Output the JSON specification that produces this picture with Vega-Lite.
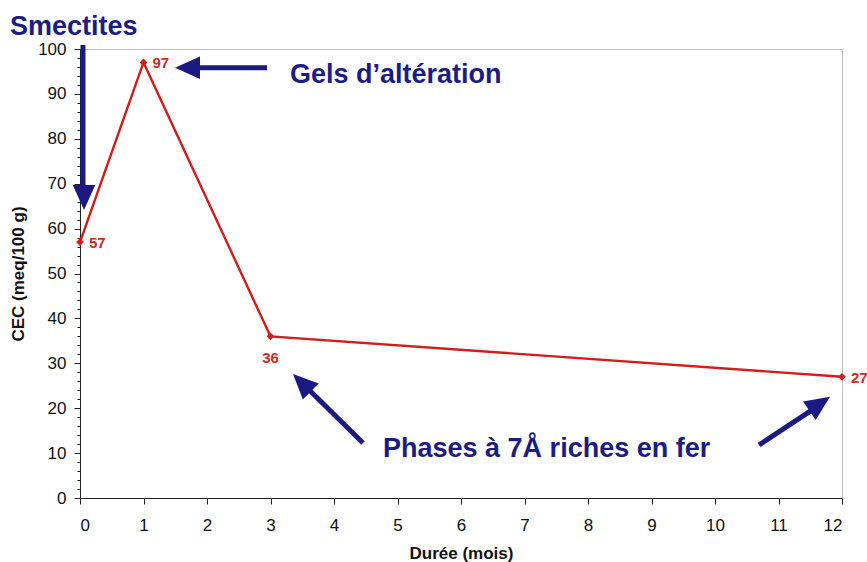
{
  "$schema": "https://vega.github.io/schema/vega-lite/v6.json",
  "width": 762,
  "height": 449,
  "autosize": {"type": "none"},
  "padding": {"left": 80, "top": 49, "right": 25, "bottom": 64},
  "background": "white",
  "config": {
    "view": {"stroke": "#bdbdbd", "strokeWidth": 1},
    "font": "Liberation Sans"
  },
  "datasets": {
    "cec": [
      {"mois": 0, "cec": 57},
      {"mois": 1, "cec": 97},
      {"mois": 3, "cec": 36},
      {"mois": 12, "cec": 27}
    ],
    "shafts": [
      {"mois": 0.047, "y": 100.9, "x2": 0.047, "y2": 67.5},
      {"mois": 2.945, "y": 95.8, "x2": 1.75, "y2": 95.8},
      {"mois": 4.457, "y": 12.25, "x2": 3.55, "y2": 24.9},
      {"mois": 10.693, "y": 11.8, "x2": 11.59, "y2": 20.2}
    ],
    "notes": [
      {"mois": -1.102, "y": 103.1, "text": "Smectites"},
      {"mois": 3.307, "y": 92.4, "text": "Gels d’altération"},
      {"mois": 4.772, "y": 9.13, "text": "Phases à 7Å riches en fer"}
    ]
  },
  "layer": [
    {
      "data": {"name": "cec"},
      "mark": {"type": "line", "color": "#d41c1c", "strokeWidth": 2.4},
      "encoding": {
        "x": {
          "field": "mois", "type": "quantitative",
          "scale": {"domain": [0, 12], "nice": false, "zero": false},
          "axis": {
            "values": [0,1,2,3,4,5,6,7,8,9,10,11,12], "format": "d",
            "grid": false, "tickSize": 6, "tickColor": "#222", "domainColor": "#222",
            "labelFontSize": 17, "labelColor": "#111", "labelPadding": 13,
            "labelFont": "Liberation Sans",
            "title": "Durée (mois)", "titleFontSize": 17, "titleFontWeight": "bold",
            "titleColor": "#111", "titleFont": "Liberation Sans", "titlePadding": 12
          }
        },
        "y": {
          "field": "cec", "type": "quantitative",
          "scale": {"domain": [0, 100], "nice": false},
          "axis": {
            "values": [0,10,20,30,40,50,60,70,80,90,100], "format": "d",
            "grid": false, "tickSize": 6, "tickColor": "#222", "domainColor": "#222",
            "labelFontSize": 17, "labelColor": "#111", "labelPadding": 8,
            "labelFont": "Liberation Sans",
            "title": "CEC (meq/100 g)", "titleFontSize": 17, "titleFontWeight": "bold",
            "titleColor": "#111", "titleFont": "Liberation Sans", "titlePadding": 10
          }
        }
      }
    },
    {
      "data": {"name": "cec"},
      "mark": {"type": "point", "opacity": 0},
      "encoding": {
        "x": {"field": "mois", "type": "quantitative"},
        "y": {
          "field": "cec", "type": "quantitative",
          "axis": {
            "orient": "left",
            "values": [2,4,6,8,12,14,16,18,22,24,26,28,32,34,36,38,42,44,46,48,52,54,56,58,62,64,66,68,72,74,76,78,82,84,86,88,92,94,96,98],
            "labels": false, "domain": false, "grid": false, "title": null,
            "tickSize": 3, "tickColor": "#222"
          }
        }
      }
    },
    {
      "data": {"name": "cec"},
      "mark": {"type": "point", "shape": "diamond", "filled": true, "color": "#d41c1c", "size": 60, "opacity": 1},
      "encoding": {
        "x": {"field": "mois", "type": "quantitative"},
        "y": {"field": "cec", "type": "quantitative", "axis": null}
      }
    },
    {
      "data": {"name": "cec"},
      "transform": [{"filter": "datum.mois != 3"}],
      "mark": {"type": "text", "align": "left", "baseline": "middle", "dx": 9, "dy": 1, "fontSize": 15, "fontWeight": "bold", "color": "#d42a1e", "font": "Liberation Sans"},
      "encoding": {
        "x": {"field": "mois", "type": "quantitative"},
        "y": {"field": "cec", "type": "quantitative", "axis": null},
        "text": {"field": "cec", "type": "quantitative", "format": "d"}
      }
    },
    {
      "data": {"name": "cec"},
      "transform": [{"filter": "datum.mois == 3"}],
      "mark": {"type": "text", "align": "center", "baseline": "middle", "dy": 22, "fontSize": 15, "fontWeight": "bold", "color": "#d42a1e", "font": "Liberation Sans"},
      "encoding": {
        "x": {"field": "mois", "type": "quantitative"},
        "y": {"field": "cec", "type": "quantitative", "axis": null},
        "text": {"field": "cec", "type": "quantitative", "format": "d"}
      }
    },
    {
      "data": {"name": "shafts"},
      "mark": {"type": "rule", "color": "#1a1a82", "strokeWidth": 5, "strokeCap": "butt"},
      "encoding": {
        "x": {"field": "mois", "type": "quantitative"},
        "y": {"field": "y", "type": "quantitative", "axis": null},
        "x2": {"field": "x2"},
        "y2": {"field": "y2"}
      }
    },
    {
      "data": {"values": [{"mois": 0.063, "y": 66.9}]},
      "mark": {"type": "point", "shape": "M0,-1L0.9,1L-0.9,1Z", "size": 625, "filled": true, "opacity": 1, "color": "#1a1a82", "angle": 180},
      "encoding": {
        "x": {"field": "mois", "type": "quantitative"},
        "y": {"field": "y", "type": "quantitative", "axis": null}
      }
    },
    {
      "data": {"values": [{"mois": 1.693, "y": 95.8}]},
      "mark": {"type": "point", "shape": "M0,-1L0.9,1L-0.9,1Z", "size": 625, "filled": true, "opacity": 1, "color": "#1a1a82", "angle": 270},
      "encoding": {
        "x": {"field": "mois", "type": "quantitative"},
        "y": {"field": "y", "type": "quantitative", "axis": null}
      }
    },
    {
      "data": {"values": [{"mois": 3.494, "y": 25.66}]},
      "mark": {"type": "point", "shape": "M0,-1L0.9,1L-0.9,1Z", "size": 625, "filled": true, "opacity": 1, "color": "#1a1a82", "angle": 314.6},
      "encoding": {
        "x": {"field": "mois", "type": "quantitative"},
        "y": {"field": "y", "type": "quantitative", "axis": null}
      }
    },
    {
      "data": {"values": [{"mois": 11.649, "y": 21.0}]},
      "mark": {"type": "point", "shape": "M0,-1L0.9,1L-0.9,1Z", "size": 625, "filled": true, "opacity": 1, "color": "#1a1a82", "angle": 55.8},
      "encoding": {
        "x": {"field": "mois", "type": "quantitative"},
        "y": {"field": "y", "type": "quantitative", "axis": null}
      }
    },
    {
      "data": {"name": "notes"},
      "mark": {"type": "text", "align": "left", "baseline": "alphabetic", "fontSize": 27, "fontWeight": "bold", "color": "#1c1c84", "font": "Liberation Sans"},
      "encoding": {
        "x": {"field": "mois", "type": "quantitative"},
        "y": {"field": "y", "type": "quantitative", "axis": null},
        "text": {"field": "text"}
      }
    }
  ],
  "resolve": {"axis": {"y": "independent"}}
}
